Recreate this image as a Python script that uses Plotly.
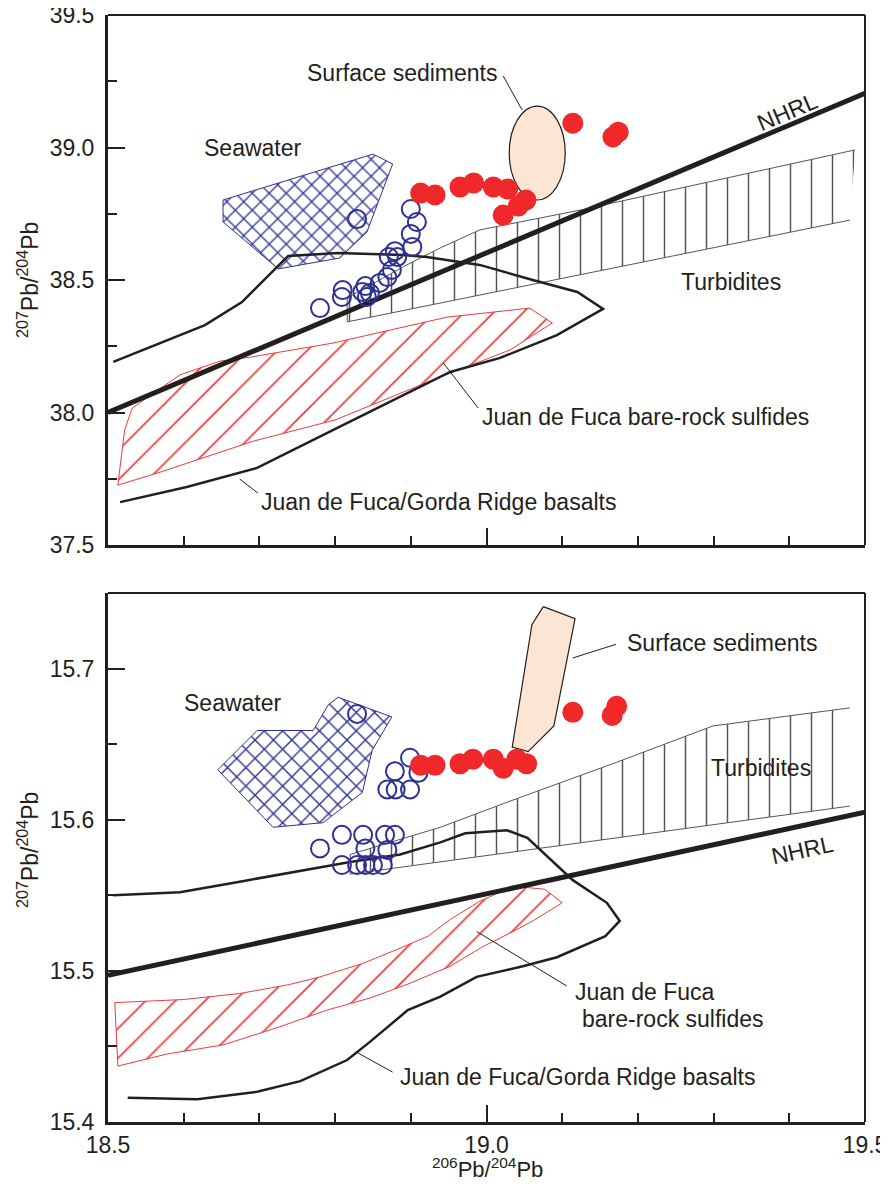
import plotly.graph_objects as go

# ---------------- DATA ----------------
X_RANGE = [18.5, 19.5]
TOP_Y_RANGE = [37.5, 39.5]
BOT_Y_RANGE = [15.4, 15.75]

# NHRL reference line (206/204 -> 208/204 and 207/204)
nhrl_x = [18.5, 19.5]
nhrl_top_y = [38.0, 39.205]
nhrl_bot_y = [15.497, 15.605]

# ---- Top panel (208Pb/204Pb) ----
top_sea_x = [18.652, 18.850, 18.876, 18.863, 18.842, 18.806, 18.725, 18.652, 18.652]
top_sea_y = [38.802, 38.975, 38.938, 38.840, 38.681, 38.583, 38.542, 38.719, 38.802]

top_sulf_x = [18.513, 18.522, 18.532, 18.595, 18.648, 18.688, 18.797, 18.886, 18.948,
              19.057, 19.087, 19.031, 18.939, 18.800, 18.692, 18.569, 18.513]
top_sulf_y = [37.726, 37.934, 38.017, 38.142, 38.194, 38.209, 38.262, 38.319, 38.360,
              38.394, 38.338, 38.236, 38.134, 37.972, 37.892, 37.775, 37.726]

top_turb_x = [19.480, 18.816, 18.816, 18.892, 18.939, 18.991, 19.124, 19.487]
top_turb_y = [38.726, 38.342, 38.432, 38.553, 38.621, 38.689, 38.764, 38.991]

top_bas_x = [18.507, 18.555, 18.628, 18.677, 18.738, 18.804, 18.890, 18.921, 18.991,
             19.061, 19.120, 19.154, 19.093, 19.018, 18.952, 18.797, 18.697, 18.604, 18.516]
top_bas_y = [38.191, 38.247, 38.330, 38.417, 38.591, 38.602, 38.594, 38.587, 38.557,
             38.500, 38.455, 38.391, 38.292, 38.206, 38.153, 37.934, 37.791, 37.719, 37.662]

# surface sediments ellipse (centre and half-widths)
top_sed_cx, top_sed_cy = 19.067, 38.979
top_sed_rx, top_sed_ry = 0.037, 0.177

top_blue_x = [18.829, 18.900, 18.908, 18.900, 18.902, 18.879, 18.871, 18.882, 18.875,
              18.869, 18.859, 18.840, 18.836, 18.846, 18.810, 18.809, 18.842, 18.780]
top_blue_y = [38.730, 38.768, 38.719, 38.674, 38.625, 38.609, 38.587, 38.587, 38.538,
              38.511, 38.489, 38.477, 38.455, 38.451, 38.462, 38.436, 38.436, 38.394]

top_red_x = [18.913, 18.932, 18.965, 18.983, 19.009, 19.028, 19.052, 19.042, 19.022,
             19.114, 19.167, 19.174]
top_red_y = [38.828, 38.821, 38.851, 38.866, 38.851, 38.843, 38.802, 38.779, 38.745,
             39.092, 39.040, 39.058]

# ---- Bottom panel (207Pb/204Pb) ----
bot_sea_x = [18.645, 18.697, 18.771, 18.791, 18.804, 18.875, 18.849, 18.836, 18.784, 18.718, 18.645]
bot_sea_y = [15.633, 15.659, 15.659, 15.676, 15.681, 15.668, 15.646, 15.618, 15.598, 15.595, 15.633]

bot_sulf_x = [18.509, 18.599, 18.674, 18.740, 18.780, 18.837, 18.886, 18.923, 18.952, 18.991,
              19.035, 19.077, 19.100, 19.061, 19.035, 18.995, 18.952, 18.895, 18.846, 18.789,
              18.727, 18.652, 18.578, 18.513, 18.509]
bot_sulf_y = [15.479, 15.481, 15.485, 15.491, 15.496, 15.505, 15.515, 15.523, 15.534, 15.546,
              15.556, 15.554, 15.545, 15.533, 15.526, 15.516, 15.503, 15.491, 15.482, 15.474,
              15.463, 15.451, 15.445, 15.437, 15.479]

bot_turb_x = [19.480, 18.939, 18.820, 18.820, 18.939, 19.035, 19.172, 19.299, 19.480]
bot_turb_y = [15.609, 15.572, 15.564, 15.577, 15.595, 15.613, 15.638, 15.662, 15.674]

bot_bas_x = [18.507, 18.595, 18.674, 18.744, 18.820, 18.886, 18.939, 18.972, 19.027, 19.054,
             19.071, 19.114, 19.159, 19.176, 19.157, 19.093, 19.048, 18.987, 18.939, 18.896,
             18.846, 18.816, 18.754, 18.697, 18.618, 18.526]
bot_bas_y = [15.550, 15.552, 15.559, 15.565, 15.572, 15.577, 15.585, 15.591, 15.593, 15.588,
             15.580, 15.560, 15.545, 15.533, 15.523, 15.509, 15.503, 15.496, 15.483, 15.474,
             15.453, 15.441, 15.427, 15.420, 15.415, 15.416]

bot_sed_x = [19.075, 19.117, 19.089, 19.055, 19.034, 19.060, 19.075]
bot_sed_y = [15.741, 15.733, 15.662, 15.645, 15.648, 15.729, 15.741]

bot_blue_x = [18.829, 18.899, 18.879, 18.910, 18.869, 18.880, 18.899, 18.809, 18.837, 18.866,
              18.879, 18.780, 18.840, 18.869, 18.809, 18.829, 18.840, 18.850, 18.863]
bot_blue_y = [15.670, 15.641, 15.632, 15.631, 15.620, 15.620, 15.620, 15.590, 15.590, 15.590,
              15.590, 15.581, 15.581, 15.580, 15.570, 15.570, 15.570, 15.570, 15.570]

bot_red_x = [18.913, 18.932, 18.965, 18.982, 19.009, 19.022, 19.040, 19.053, 19.114, 19.166, 19.172]
bot_red_y = [15.636, 15.636, 15.637, 15.640, 15.640, 15.634, 15.640, 15.637, 15.671, 15.669, 15.675]

# ---------------- STYLE ----------------
INK = "#231F20"
NAVY = "#2E3192"
RED = "#F0282A"
RED_FIELD = "#EE3B3B"
PEACH = "#FCE5D2"
GREY = "#555555"
FONT = "Liberation Sans, Arial, Helvetica, sans-serif"

fig = go.Figure()


def add_panel(xa, ya, sea_x, sea_y, sea_size, sulf_x, sulf_y, sulf_size, turb_x, turb_y,
              bas_x, bas_y, nhrl_y, blue_x, blue_y, red_x, red_y, sed=None):
    fig.add_trace(go.Scatter(x=sea_x, y=sea_y, xaxis=xa, yaxis=ya, mode="lines",
                             line=dict(color=NAVY, width=1), fill="toself",
                             fillcolor="rgba(0,0,0,0)",
                             fillpattern=dict(shape="x", fgcolor=NAVY, bgcolor="rgba(0,0,0,0)",
                                              size=sea_size, solidity=0.2, fillmode="replace"),
                             hoverinfo="skip"))
    fig.add_trace(go.Scatter(x=sulf_x, y=sulf_y, xaxis=xa, yaxis=ya, mode="lines",
                             line=dict(color=RED_FIELD, width=1), fill="toself",
                             fillcolor="rgba(0,0,0,0)",
                             fillpattern=dict(shape="/", fgcolor=RED_FIELD, bgcolor="rgba(0,0,0,0)",
                                              size=sulf_size, solidity=0.08, fillmode="replace"),
                             hoverinfo="skip"))
    fig.add_trace(go.Scatter(x=turb_x, y=turb_y, xaxis=xa, yaxis=ya, mode="lines",
                             line=dict(color=GREY, width=1), fill="toself",
                             fillcolor="rgba(0,0,0,0)",
                             fillpattern=dict(shape="|", fgcolor=GREY, bgcolor="rgba(0,0,0,0)",
                                              size=21, solidity=0.07, fillmode="replace"),
                             hoverinfo="skip"))
    fig.add_trace(go.Scatter(x=bas_x, y=bas_y, xaxis=xa, yaxis=ya, mode="lines",
                             line=dict(color=INK, width=2.5), hoverinfo="skip"))
    fig.add_trace(go.Scatter(x=nhrl_x, y=nhrl_y, xaxis=xa, yaxis=ya, mode="lines",
                             line=dict(color=INK, width=5), hoverinfo="skip"))
    if sed is not None:
        fig.add_trace(go.Scatter(x=sed[0], y=sed[1], xaxis=xa, yaxis=ya, mode="lines",
                                 line=dict(color=INK, width=1.2), fill="toself",
                                 fillcolor=PEACH, hoverinfo="skip"))
    fig.add_trace(go.Scatter(x=blue_x, y=blue_y, xaxis=xa, yaxis=ya, mode="markers",
                             marker=dict(symbol="circle-open", size=18, color=NAVY,
                                         line=dict(width=2, color=NAVY)),
                             hoverinfo="skip"))
    fig.add_trace(go.Scatter(x=red_x, y=red_y, xaxis=xa, yaxis=ya, mode="markers",
                             marker=dict(symbol="circle", size=21, color=RED,
                                         line=dict(width=0)),
                             hoverinfo="skip"))


add_panel("x", "y", top_sea_x, top_sea_y, 12, top_sulf_x, top_sulf_y, 21,
          top_turb_x, top_turb_y, top_bas_x, top_bas_y, nhrl_top_y,
          top_blue_x, top_blue_y, top_red_x, top_red_y)
add_panel("x2", "y2", bot_sea_x, bot_sea_y, 13, bot_sulf_x, bot_sulf_y, 21,
          bot_turb_x, bot_turb_y, bot_bas_x, bot_bas_y, nhrl_bot_y,
          bot_blue_x, bot_blue_y, bot_red_x, bot_red_y, sed=(bot_sed_x, bot_sed_y))

shapes = []
# surface-sediment ellipse (top panel)
shapes.append(dict(type="circle", xref="x", yref="y",
                   x0=top_sed_cx - top_sed_rx, x1=top_sed_cx + top_sed_rx,
                   y0=top_sed_cy - top_sed_ry, y1=top_sed_cy + top_sed_ry,
                   fillcolor=PEACH, line=dict(color=INK, width=1.2), layer="below"))

# leader lines
leaders = [
    ("x", "y", 19.022, 39.270, 19.047, 39.142),
    ("x", "y", 18.943, 38.187, 18.989, 38.017),
    ("x", "y", 18.674, 37.749, 18.698, 37.696),
    ("x2", "y2", 19.114, 15.707, 19.171, 15.716),
    ("x2", "y2", 18.987, 15.526, 19.106, 15.490),
    ("x2", "y2", 18.829, 15.446, 18.876, 15.433),
]
for xr, yr, x0, y0, x1, y1 in leaders:
    shapes.append(dict(type="line", xref=xr, yref=yr, x0=x0, y0=y0, x1=x1, y1=y1,
                       line=dict(color=INK, width=1)))

# top / right frame lines
for xr, yr in (("x", "y"), ("x2", "y2")):
    shapes.append(dict(type="line", xref=f"{xr} domain", yref=f"{yr} domain",
                       x0=0, x1=1, y0=1, y1=1, line=dict(color=INK, width=2)))
    shapes.append(dict(type="line", xref=f"{xr} domain", yref=f"{yr} domain",
                       x0=1, x1=1, y0=0, y1=1, line=dict(color=INK, width=2)))

ann_font = dict(family=FONT, size=23, color=INK)
annotations = []


def label(text, xr, yr, x, y, xanchor="center", angle=0):
    annotations.append(dict(text=text, xref=xr, yref=yr, x=x, y=y, xanchor=xanchor,
                            yanchor="middle", showarrow=False, font=ann_font,
                            textangle=angle))


label("Surface sediments", "x", "y", 18.888, 39.281)
label("Seawater", "x", "y", 18.692, 38.998)
label("NHRL", "x", "y", 19.397, 39.134, angle=-23)
label("Turbidites", "x", "y", 19.323, 38.492)
label("Juan de Fuca bare-rock sulfides", "x", "y", 18.991, 37.983, xanchor="left")
label("Juan de Fuca/Gorda Ridge basalts", "x", "y", 18.699, 37.662, xanchor="left")

label("Surface sediments", "x2", "y2", 19.183, 15.717, xanchor="left")
label("Seawater", "x2", "y2", 18.665, 15.677)
label("Turbidites", "x2", "y2", 19.363, 15.634)
label("NHRL", "x2", "y2", 19.418, 15.580, angle=-12)
label("Juan de Fuca", "x2", "y2", 19.114, 15.486, xanchor="left")
label("bare-rock sulfides", "x2", "y2", 19.124, 15.468, xanchor="left")
label("Juan de Fuca/Gorda Ridge basalts", "x2", "y2", 18.883, 15.430, xanchor="left")

title_font = dict(family=FONT, size=23, color=INK)
annotations.append(dict(text="<sup>207</sup>Pb/<sup>204</sup>Pb", xref="paper", yref="paper",
                        x=-0.1057, y=0.7606, textangle=-90, showarrow=False, font=title_font,
                        xanchor="center", yanchor="middle"))
annotations.append(dict(text="<sup>207</sup>Pb/<sup>204</sup>Pb", xref="paper", yref="paper",
                        x=-0.1057, y=0.2457, textangle=-90, showarrow=False, font=title_font,
                        xanchor="center", yanchor="middle"))
annotations.append(dict(text="<sup>206</sup>Pb/<sup>204</sup>Pb", xref="paper", yref="paper",
                        x=0.5007, y=-0.0551, showarrow=False,
                        font=dict(family=FONT, size=22, color=INK),
                        xanchor="center", yanchor="bottom", borderpad=0))

tick_font = dict(family=FONT, size=23, color=INK)
axis_common = dict(showline=True, linewidth=3, linecolor=INK, showgrid=False, zeroline=False,
                   ticks="inside", ticklen=17, tickwidth=2, tickcolor=INK, tickfont=tick_font,
                   tickformat=".1f", mirror=False, automargin=False,
                   ticklabeloverflow="allow")

# The page body has an 8px default margin: the figure is sized so that the
# plotting area lands on the same screen pixels as the reference.
fig.update_layout(
    width=880, height=1175,
    margin=dict(l=100, r=23, t=7, b=61, autoexpand=False),
    paper_bgcolor="white", plot_bgcolor="white",
    showlegend=False, hovermode=False,
    shapes=shapes, annotations=annotations,
    xaxis=dict(domain=[0, 1], range=X_RANGE, anchor="y", showticklabels=False,
               tick0=18.5, dtick=0.5,
               minor=dict(ticks="inside", ticklen=9, tickwidth=2, tickcolor=INK, dtick=0.1,
                          showgrid=False),
               **axis_common),
    yaxis=dict(domain=[0.5212, 1], range=TOP_Y_RANGE, anchor="x", tick0=37.5, dtick=0.5,
               minor=dict(ticks="inside", ticklen=9, tickwidth=2, tickcolor=INK, dtick=0.25,
                          showgrid=False),
               ticklabelstandoff=6,
               **axis_common),
    xaxis2=dict(domain=[0, 1], range=X_RANGE, anchor="y2", tick0=18.5, dtick=0.5,
                minor=dict(ticks="inside", ticklen=9, tickwidth=2, tickcolor=INK, dtick=0.1,
                           showgrid=False),
                ticklabelstandoff=0,
                **axis_common),
    yaxis2=dict(domain=[0, 0.4779], range=BOT_Y_RANGE, anchor="x2", tick0=15.4, dtick=0.1,
                minor=dict(ticks="inside", ticklen=9, tickwidth=2, tickcolor=INK, dtick=0.05,
                           showgrid=False),
                ticklabelstandoff=6,
                **axis_common),
)

fig.write_html("out.html")
